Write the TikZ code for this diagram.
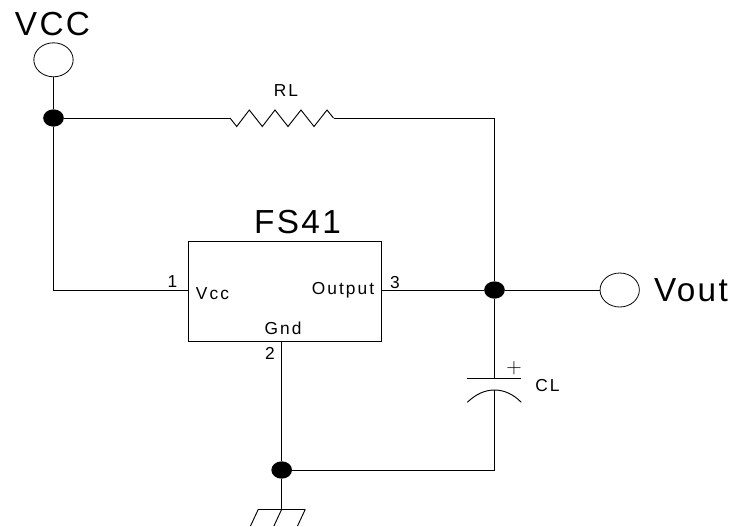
\documentclass[tikz,border=0pt]{standalone}
\usepackage{fontspec}
\setmainfont{Liberation Sans}
\newfontfamily\bigfont[LetterSpace=7]{Liberation Sans}
\newfontfamily\smallfont[LetterSpace=12]{Liberation Sans}
\newfontfamily\plusfont{Latin Modern Roman}
\usetikzlibrary{shapes.geometric}
\tikzset{
  wire/.style={draw=black,line width=0.7pt,line join=miter},
  port/.style={ellipse,draw=black,line width=0.6pt,fill=white,minimum width=29.5pt,minimum height=25.5pt,inner sep=0pt},
  junction/.style={ellipse,fill=black,minimum width=15.5pt,minimum height=13pt,inner sep=0pt},
  biglabel/.style={inner sep=0pt,font=\bigfont\fontsize{25}{25}\selectfont},
  smalllabel/.style={inner sep=0pt,font=\smallfont\fontsize{13}{13}\selectfont},
  chip/.style={rectangle,draw=black,line width=0.7pt,minimum width=145pt,minimum height=75.5pt,inner sep=0pt}
}
\begin{document}
\begin{tikzpicture}[x=0.75pt,y=-0.75pt]
\useasboundingbox (0,0) rectangle (736,526);
% components
\node[chip] (ic) at (285,291.3) {};
\node[port] (vcc) at (53.5,59.8) {};
\node[port] (vout) at (619.7,290) {};
\node[junction] (j1) at (53.5,118) {};
\node[junction] (j2) at (494.5,290) {};
\node[junction] (j3) at (281.7,470) {};
% named points
\coordinate (pin1) at (ic.west |- j2);
\coordinate (pin3) at (ic.east |- j2);
\coordinate (pin2) at (281.7,341.8);
\coordinate (corner1) at (53.5,290);
\coordinate (rs) at (230,118);
\coordinate (re) at (333.5,118);
\coordinate (corner2) at (494.5,118);
\coordinate (captop) at (494.5,378.7);
\coordinate (capbot) at (494.5,390);
\coordinate (corner3) at (494.5,470);
\coordinate (gnd) at (281.7,509.3);
% wires
\draw[wire] (vcc) -- (j1);
\draw[wire] (j1) -- (corner1) -- (pin1);
\draw[wire] (j1) -- (rs);
\draw[wire] (rs) -- (236.7,126.5) -- (249.3,110) -- (262.3,126.5) -- (275,110) -- (288,126.5) -- (301,110) -- (314,126.5) -- (327,110) -- (re);
\draw[wire] (re) -- (corner2) -- (j2);
\draw[wire] (pin3) -- (j2);
\draw[wire] (j2) -- (vout);
\draw[wire] (j2) -- (captop);
\draw[wire] (capbot) -- (corner3) -- (j3);
\draw[wire] (pin2) -- (j3);
\draw[wire] (j3) -- (gnd);
% capacitor
\draw[wire] (467.3,378.7) -- (521.3,378.7);
\draw[wire] (467.3,402.3) .. controls (476,394) and (485,390) .. (capbot) .. controls (504,390) and (513,394) .. (521.3,402.3);
% ground
\draw[wire] (258.3,509.3) -- (305.3,509.3);
\draw[wire] (258.3,509.3) -- (250.5,526);
\draw[wire] (gnd) -- (273.9,526);
\draw[wire] (305.3,509.3) -- (297.5,526);
% labels
\node[biglabel] (lvcc) at (52.5,24) {VCC};
\node[biglabel] (lvout) at (691,290.5) {Vout};
\node[biglabel] (lfs) at (297.5,222.5) {FS41};
\node[smalllabel] (lrl) at (286,91) {RL};
\node[smalllabel] (lcl) at (547.5,385.5) {CL};
\node[smalllabel] (lv) at (212.5,293.5) {Vcc};
\node[smalllabel] (lo) at (343,290.5) {Output};
\node[smalllabel] (lg) at (283,328.5) {Gnd};
\node[smalllabel] (n1) at (172.5,282) {1};
\node[smalllabel] (n3) at (395,282.5) {3};
\node[smalllabel] (n2) at (270,353.5) {2};
\node[inner sep=0pt,font=\plusfont\fontsize{16}{16}\selectfont] (plus) at (514,367.7) {+};
\end{tikzpicture}
\end{document}
